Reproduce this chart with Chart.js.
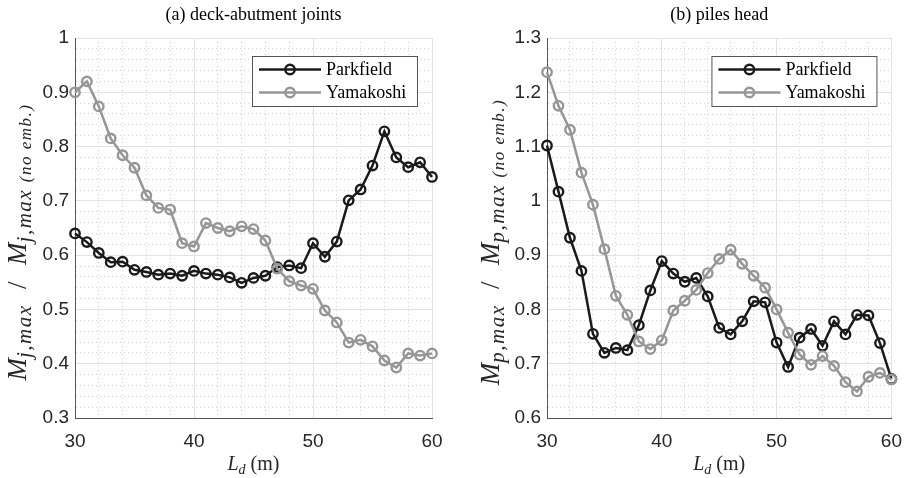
<!DOCTYPE html>
<html><head><meta charset="utf-8">
<script src="https://cdn.jsdelivr.net/npm/chart.js@4/dist/chart.umd.min.js"></script>
<style>
html,body{margin:0;padding:0;background:#fff;width:914px;height:478px;overflow:hidden}
#wrap{position:relative;width:914px;height:478px}
canvas{position:absolute;top:0}
</style></head><body>
<div id="wrap">
<canvas id="ca" width="457" height="478" style="left:0"></canvas>
<canvas id="cb" width="457" height="478" style="left:457px"></canvas>
</div>
<script>
// ---- data ----
const deckLengths = [30,31,32,33,34,35,36,37,38,39,40,41,42,43,44,45,46,47,48,49,50,51,52,53,54,55,56,57,58,59,60];
const jointsParkfield = [0.640,0.624,0.604,0.587,0.588,0.573,0.569,0.564,0.566,0.562,0.571,0.566,0.564,0.559,0.549,0.558,0.562,0.578,0.581,0.576,0.622,0.597,0.625,0.701,0.721,0.765,0.828,0.780,0.762,0.771,0.744];
const jointsYamakoshi = [0.900,0.920,0.874,0.815,0.784,0.761,0.710,0.687,0.684,0.622,0.616,0.659,0.650,0.644,0.653,0.648,0.627,0.575,0.552,0.544,0.538,0.498,0.476,0.439,0.444,0.432,0.406,0.393,0.419,0.415,0.419];
const pilesParkfield = [1.102,1.017,0.932,0.871,0.755,0.720,0.729,0.725,0.771,0.835,0.889,0.866,0.851,0.858,0.824,0.766,0.754,0.778,0.815,0.813,0.739,0.694,0.748,0.764,0.733,0.778,0.754,0.790,0.789,0.738,0.672];
const pilesYamakoshi = [1.237,1.175,1.131,1.052,0.993,0.911,0.825,0.790,0.741,0.727,0.743,0.798,0.816,0.836,0.867,0.893,0.910,0.884,0.862,0.840,0.800,0.757,0.717,0.698,0.714,0.696,0.666,0.649,0.676,0.683,0.671];
const seriesNames = ['Parkfield','Yamakoshi'];
const panelTitles = ['(a) deck-abutment joints','(b) piles head'];
const xTicks = [30,40,50,60];
const yRangeJoints = [0.3,1.0];
const yRangePiles = [0.6,1.3];

// ---- styles ----
const COLORS = ['#1a1a1a','#969696'];
const SERIF = '"Liberation Serif", "DejaVu Serif", serif';
const SANS = '"Liberation Sans", Arial, sans-serif';

function isMajor(v, step){ return Math.abs(v/step - Math.round(v/step)) < 1e-6; }

function drawRich(ctx, parts, cx, cy, rotate){
  ctx.save();
  ctx.translate(cx, cy);
  if (rotate) ctx.rotate(-Math.PI/2);
  let total = 0;
  parts.forEach(p => { ctx.font = p.f; ctx.letterSpacing = (p.ls || 0) + 'px'; p.w = ctx.measureText(p.t).width; total += p.w; });
  let x = -total/2;
  ctx.textBaseline = 'alphabetic';
  ctx.textAlign = 'left';
  parts.forEach(p => { ctx.font = p.f; ctx.letterSpacing = (p.ls || 0) + 'px'; ctx.fillText(p.t, x, p.dy); x += p.w; });
  ctx.letterSpacing = '0px';
  ctx.restore();
}

const annot = {
  id: 'annot',
  afterDraw(chart, args, o){
    const ctx = chart.ctx, a = chart.chartArea;
    const cx = (a.left + a.right)/2;
    ctx.save();
    ctx.fillStyle = '#000';
    // panel title
    ctx.font = '18px ' + SERIF;
    ctx.textAlign = 'center'; ctx.textBaseline = 'middle';
    ctx.fillText(o.title, cx, 15);
    ctx.fillStyle = '#262626';
    // x title
    drawRich(ctx, [
      {t:'L', f:'italic 20px ' + SERIF, dy:0},
      {t:'d', f:'italic 14px ' + SERIF, dy:4},
      {t:' (m)', f:'20px ' + SERIF, dy:0}
    ], cx, 470, false);
    // y title
    const s = o.sub;
    drawRich(ctx, [
      {t:'M', f:'italic 27px ' + SERIF, dy:9},
      {t:s+',max', f:'italic 21px ' + SERIF, dy:14, ls:1.5},
      {t:'  /  ', f:'27px ' + SERIF, dy:9, ls:1},
      {t:'M', f:'italic 27px ' + SERIF, dy:9},
      {t:s+',max ', f:'italic 21px ' + SERIF, dy:14, ls:1.5},
      {t:'(no emb.)', f:'italic 17px ' + SERIF, dy:14, ls:1.5}
    ], o.yTitleX, 242, true);
    // legend
    const bx = a.right - 180, by = a.top + 18, bw = 165, bh = 50;
    ctx.fillStyle = '#fff';
    ctx.fillRect(bx, by, bw, bh);
    ctx.strokeStyle = '#555'; ctx.lineWidth = 1;
    ctx.strokeRect(bx + 0.5, by + 0.5, bw, bh);
    chart.data.datasets.forEach((ds, i) => {
      const yy = by + 13.5 + i*23;
      ctx.strokeStyle = ds.borderColor; ctx.lineWidth = ds.borderWidth;
      ctx.beginPath(); ctx.moveTo(bx + 7, yy); ctx.lineTo(bx + 69, yy); ctx.stroke();
      ctx.lineWidth = ds.pointBorderWidth;
      ctx.beginPath(); ctx.arc(bx + 38, yy, ds.pointRadius, 0, Math.PI*2); ctx.stroke();
      ctx.fillStyle = '#000';
      ctx.font = '18px ' + SERIF;
      ctx.textAlign = 'left'; ctx.textBaseline = 'middle';
      ctx.fillText(ds.label, bx + 74, yy + 1);
    });
    ctx.restore();
  }
};

function makeChart(id, pk, ym, yr, title, sub, yWidth, rightPad, yTitleX){
  const mk = (vals, i) => ({
    label: seriesNames[i],
    data: deckLengths.map((x, k) => ({x, y: vals[k]})),
    borderColor: COLORS[i],
    backgroundColor: 'rgba(0,0,0,0)',
    pointBackgroundColor: 'rgba(0,0,0,0)',
    pointBorderColor: COLORS[i],
    borderWidth: 2.5,
    pointBorderWidth: 2.4,
    pointRadius: 4.7,
    pointHoverRadius: 4.7,
    tension: 0,
    clip: false,
    order: i === 0 ? 1 : 0
  });
  const maj = c => c.tick && isMajor(c.tick.value, c.scale.axis === 'x' ? 10 : 0.1);
  const gridColor = c => maj(c) ? '#e2e2e2' : '#d2d2d2';
  const gridDash = c => (c.tick && !maj(c)) ? [1,3] : [];
  return new Chart(document.getElementById(id), {
    type: 'line',
    data: { datasets: [mk(pk,0), mk(ym,1)] },
    plugins: [annot],
    options: {
      responsive: false, animation: false, devicePixelRatio: 1,
      layout: { padding: { left: 0, top: 38, right: rightPad, bottom: 0 } },
      plugins: { legend: { display: false }, tooltip: { enabled: false },
        annot: { title, sub, yTitleX } },
      scales: {
        x: {
          type: 'linear', min: 30, max: 60,
          afterFit: s => { s.height = 60; },
          ticks: { stepSize: 2, autoSkip: false, maxRotation: 0, padding: 12, color: '#262626',
            font: { family: SANS, size: 19 },
            callback: v => xTicks.includes(v) ? String(v) : '' },
          grid: { color: gridColor, lineWidth: 1, drawTicks: false, tickBorderDash: gridDash },
          border: { display: true, color: '#555', width: 1, dash: gridDash }
        },
        y: {
          type: 'linear', min: yr[0], max: yr[1],
          afterFit: s => { s.width = yWidth; },
          ticks: { stepSize: 0.02, autoSkip: false, maxTicksLimit: 200, padding: 6, color: '#262626',
            font: { family: SANS, size: 19 },
            callback: v => isMajor(v, 0.1) ? String(Math.round(v*10)/10) : '' },
          grid: { color: gridColor, lineWidth: 1, drawTicks: false, tickBorderDash: gridDash },
          border: { display: true, color: '#555', width: 1, dash: gridDash }
        }
      }
    }
  });
}

makeChart('ca', jointsParkfield, jointsYamakoshi, yRangeJoints, panelTitles[0], 'j', 75, 25, 17);
makeChart('cb', pilesParkfield, pilesYamakoshi, yRangePiles, panelTitles[1], 'p', 90, 11, 33);
</script>
</body></html>
